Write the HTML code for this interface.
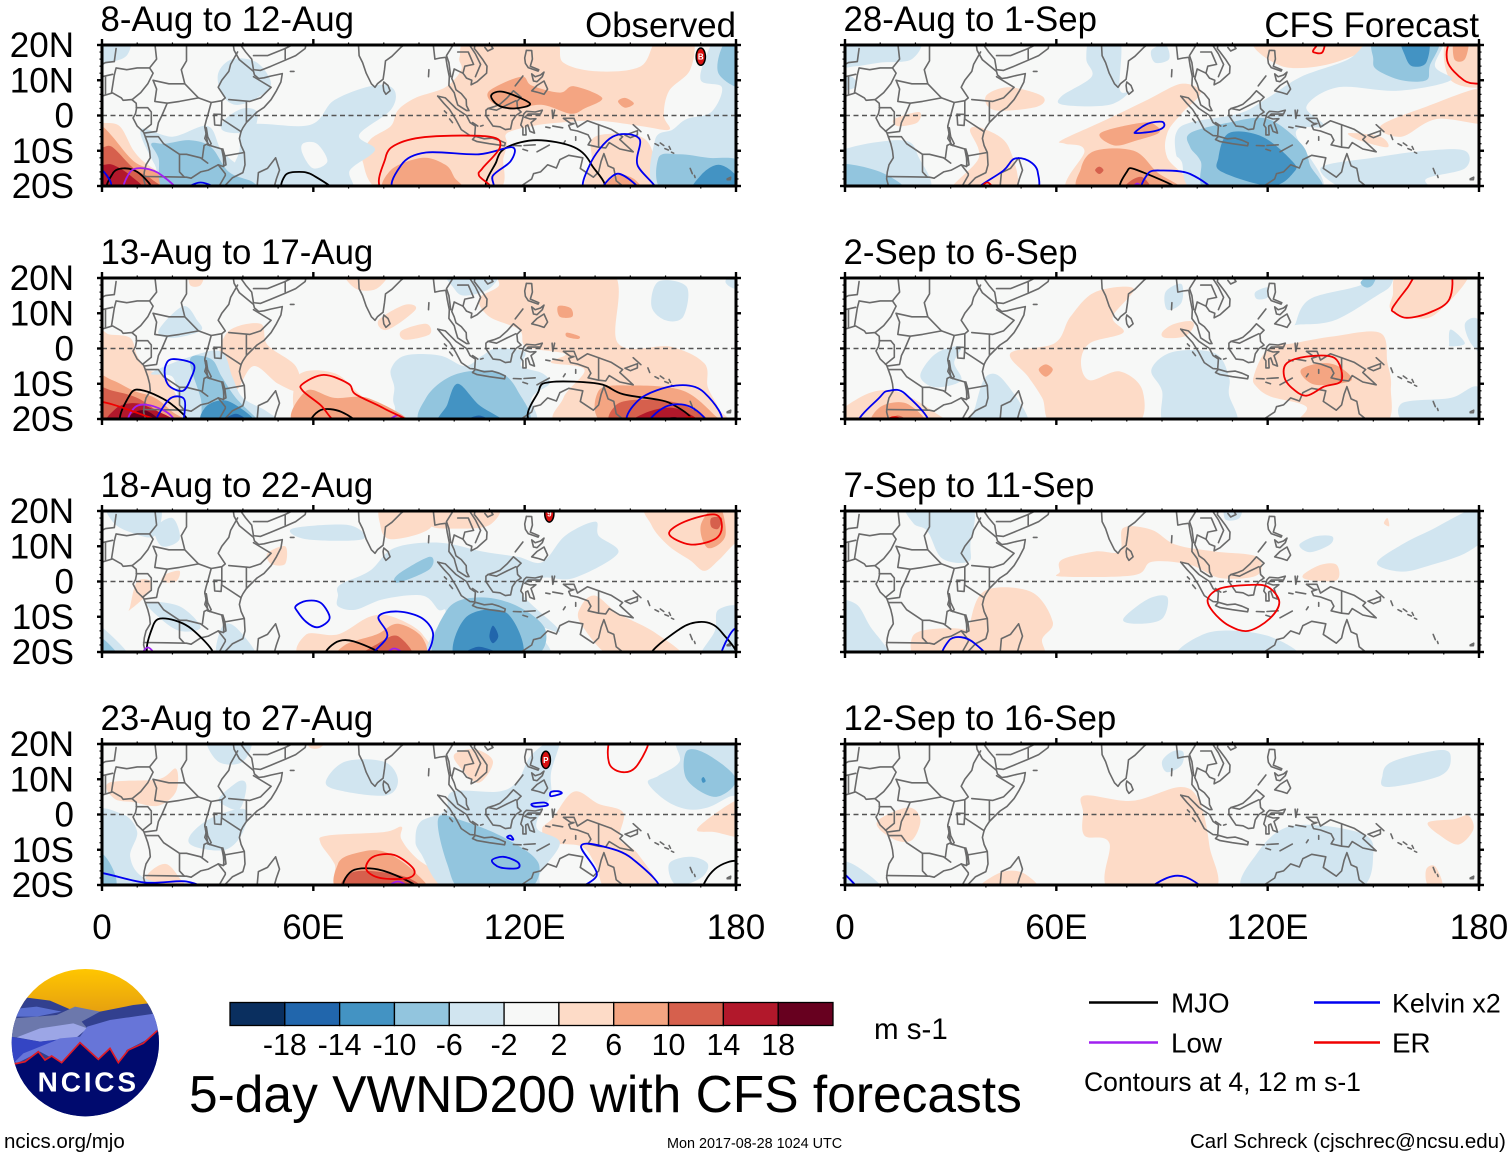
<!DOCTYPE html>
<html lang="en">
<head>
<meta charset="utf-8">
<title>5-day VWND200 with CFS forecasts</title>
<style>
html,body{margin:0;padding:0;background:#fff}
svg{display:block}
text{font-family:"Liberation Sans",Arial,sans-serif;fill:#000}
</style>
</head>
<body>
<svg id="chart" xmlns="http://www.w3.org/2000/svg" width="1510" height="1158" viewBox="0 0 1510 1158">
  <rect width="1510" height="1158" fill="#fff"/>
  <g id="panels"></g>
  <g id="colorbar"></g>

  <text x="874" y="1039" font-size="29.5">m s-1</text>
  <text x="189" y="1112" font-size="51.5">5-day VWND200 with CFS forecasts</text>

  <line x1="1089" x2="1158" y1="1002.5" y2="1002.5" stroke="#000" stroke-width="2.5"/>
  <text x="1171" y="1012.5" font-size="27.8">MJO</text>
  <line x1="1314" x2="1380" y1="1002.5" y2="1002.5" stroke="#0000f0" stroke-width="2.5"/>
  <text x="1392" y="1012.5" font-size="26.8">Kelvin x2</text>
  <line x1="1089" x2="1158" y1="1042.5" y2="1042.5" stroke="#a020f0" stroke-width="2.5"/>
  <text x="1171" y="1052.5" font-size="27.8">Low</text>
  <line x1="1314" x2="1380" y1="1042.5" y2="1042.5" stroke="#f00000" stroke-width="2.5"/>
  <text x="1392" y="1052.5" font-size="27.8">ER</text>
  <text x="1084" y="1091" font-size="26.5">Contours at 4, 12 m s-1</text>

  <text x="4" y="1148" font-size="20.5">ncics.org/mjo</text>
  <text x="667" y="1148" font-size="14.4">Mon 2017-08-28 1024 UTC</text>
  <text x="1190" y="1148" font-size="20.5">Carl Schreck (cjschrec@ncsu.edu)</text>

  <g transform="translate(0,960) scale(0.33333)">
    <defs>
      <clipPath id="logoClip"><circle cx="256" cy="248" r="221"/></clipPath>
      <linearGradient id="sun" x1="0" y1="0" x2="0" y2="1"><stop offset="0" stop-color="#ffc600"/><stop offset="1" stop-color="#e6a010"/></linearGradient>
    </defs>
    <g clip-path="url(#logoClip)">
      <rect x="30" y="27" width="460" height="130" fill="url(#sun)"/>
      <polygon fill="#32408f" points="75,112 150,122 215,150 300,155 400,135 445,130 490,210 490,480 20,480 30,190"/>
      <polygon fill="#5a6fd0" points="60,145 110,140 185,155 110,170 40,170"/>
      <polygon fill="#6c78ac" points="40,175 110,170 170,165 225,140 300,155 245,185 262,205 100,220 50,232 30,230"/>
      <polygon fill="#9ca6e6" points="50,232 120,205 220,190 262,205 230,232 120,245"/>
      <polygon fill="#6775d8" points="470,160 478,220 380,270 360,310 330,265 300,300 240,245 185,310 120,275 50,310 40,300 80,270 180,235 240,230 262,200 330,180"/>
      <polygon fill="#3445c4" points="30,230 120,245 170,240 70,280 40,310 20,300"/>
      <polygon fill="#000a6e" points="42,312 75,305 115,275 135,300 155,288 185,308 240,248 295,298 330,265 355,308 385,270 430,250 472,212 490,210 490,480 20,480"/>
      <polyline fill="none" stroke="#dd1c28" stroke-width="5" points="42,312 75,305 115,275 135,300 155,288 185,308 240,248 295,298 330,265 355,308 385,270 430,250 472,212"/>
    </g>
    <text x="113" y="395" font-size="84" font-weight="bold" style="fill:#fff" textLength="295" lengthAdjust="spacing">NCICS</text>
  </g>
</svg>

<script>
/* ---------- chart data ---------- */
const panelTitles = ['8-Aug to 12-Aug','13-Aug to 17-Aug','18-Aug to 22-Aug','23-Aug to 27-Aug','28-Aug to 1-Sep','2-Sep to 6-Sep','7-Sep to 11-Sep','12-Sep to 16-Sep'];
const columnTitles = ['Observed','CFS Forecast'];
const lonTicks = [0,60,120,180];
const lonTickLabels = ['0','60E','120E','180'];
const latTicks = [20,10,0,-10,-20];
const latTickLabels = ['20N','10N','0','10S','20S'];
const colorLevels = ['-18','-14','-10','-6','-2','2','6','10','14','18'];
const binColors = ['#0a2f5f','#2166ac','#4393c3','#92c5de','#d1e5f0','#f7f8f7','#fddbc7','#f4a582','#d6604d','#b2182b','#67001f'];

/* each fill: [bin (-5..5), lon, lat, lon, lat, ...] */
const fillsP1 = [
[1,81,-22,74,-13,76,-7,82,-3,84,1.5,89,5,97.5,8,102,13,101.5,16.5,105,22,127.5,22,131,15,141,12.5,153,14,158,22,167.5,22,167,13,161,7,159.5,0,161,-4,153,-3,141,-1.5,130,-2,122,-3,115,-5,115,-8,114,-12,111,-22],
[1,139,-13,140,-6,153,-6,157,-13,157,-22,138,-22],
[1,-3,-1,0,-2,5,-3,9,-10,13,-14,20,-18,30,-22,-3,-22],
[2,110,7,119,11,122,8.5,130,6.5,134,8.3,142,5,137,2,133,0.5,125,3,117,2,111,3.5],
[2,146.5,4,148.5,5,151,3.4,148.5,2.2],
[2,81,-22,82,-15.5,91,-12,97.5,-14,100,-17.5,102,-22],
[2,142,-22,146,-17,151,-18,153,-22],
[2,-3,-2,0,-3,3,-6,9,-13,15,-16,22,-22,-3,-22],
[3,-3,-8,0,-9,3,-9,9,-15,14,-18,17,-22,-3,-22],
[4,-3,-13,0,-14,3,-14,8,-17,12,-22,-3,-22],
[-1,11,-4,20,-6,30,-3,34,-10,40,-15,47,-19,48,-22,20,-22,15,-14],
[-1,35,-1,40,2,44,1,43,-4,38,-5,34,-4],
[-1,33,12,37,16,44,15,48,9,44,5,38,3,34,6],
[-1,41.4,-2.7,59,-2.7,66,4.4,77.5,8.6,83,7.2,82,1.6,73,-5.5,77.5,-9.8,70.4,-15.5,69,-22,38,-22,39,-10],
[0,57,-8,61,-8,64,-13,60,-15,57,-11],
[-1,157,-7,162,-4,166,-1,173,1,176,8,170,10,172,18,175,22,183,22,183,-22,158,-22],
[-1,-3,20,2,22,8,22,7,17,2,15,-3,14],
[-2,158,-12,164,-11,172,-12,181,-13,181,-22,160,-22],
[-2,175,12,177,21,183,21,183,8],
[-2,14,-8,18,-8,25,-7,31,-9,36,-16,43,-19,43,-22,19,-22,16,-12],
[-3,168,-22,170,-17,175,-14,180,-17,182,-22]
];
const fillsP2 = [
[1,-3,5,2,4,8,3,10,-2,13,-6,18,-8,22,-15,26,-22,-3,-22],
[1,33,-3,36,5,45,7,47,1,55,-5,56,-12,50,-10,43,-5,38,-12,35,-8],
[1,55.5,-8,66,-7,74.5,-14,88,-22,58,-22],
[1,107,14,112.5,17.6,115,22,144.5,22,146.5,1.5,161.5,0.5,171,-4.2,172,-11,175,-17,175,-22,131.5,-22,131,-14,137,-6,127.5,-4,131.5,-1.5,120.5,0.5,118.5,5.3,110,9],
[1,78.5,8,86,12.4,89,11,81,5.3],
[1,85,5,92,7,93,4,86,2.5],
[1,69,22,81,22,78,17,72,17],
[1,25,22,29,22,28,18,25,18],
[2,58,-12,66,-14,76,-14.2,87,-22,55.5,-22],
[2,-3,-7.7,3,-9,9,-12,15,-14,20,-18,24,-22,-3,-22],
[2,141,-12,151,-10.5,165,-12,174,-19,176,-22,144,-22],
[2,129.5,12,133,11.5,133.5,9,130,9],
[2,132,4.5,135.5,3.5,135,2.7,132,3.3],
[3,-3,-11,3,-12,10,-14,16,-18,22,-22,-3,-22],
[3,146,-16,154,-14.5,165,-16,172,-22,146,-22],
[4,4,-17,9,-15.5,14,-17,22,-22,2,-22],
[4,155,-18,163,-17,170,-22,150,-22],
[5,8,-19,12,-17.5,16,-20,17,-23,7,-23],
[5,157,-21,163,-19.5,168,-23,154,-23],
[-1,16,5,23,12,27,8,28,5,20,3],
[-1,98,22,112,22,110,17,103,15,100,17],
[-1,14,-7,26,-2,34,-1,37,-8,40,-14,47,-18,50,-22,26,-22,22,-15,20,-8],
[-1,82,-6,86,-2,96,-2,103,-5,108,-2,112,0,120,-1,119,-5,125,-7,127,-10,122,-14,121,-22,88,-22,83,-16,83,-11],
[-1,158,19,166,17.5,165,9,160,8,156,12],
[-1,180,17,177,19,180,22,183,20],
[-2,92,-22,92,-14,100,-7.5,112,-6.5,118,-12,120,-22],
[-2,25,-3,31,-3,34,-8,38,-14,44,-20,45,-22,30,-22,28,-14],
[-3,96,-22,98,-16,101,-10,107,-16,115,-22],
[-3,29.5,-16.5,36,-15,44,-22,29,-22],
[-4,101,-22,107,-19,111,-22],
[-4,33,-22,38,-18.5,42,-22]
];
const fillsP3 = [
[1,80,22,94,22,93,15,82,12,79,16],
[1,93,22,112,22,110,16,100,15,93,16],
[1,156,22,156,16,161,10,167,6,171,3,175,6,180,11,183,11,183,22],
[1,136,-7,140,-4,146.5,-9,157,-14.5,165,-22,146,-22,136,-12],
[1,58,-15,67,-15,76,-10,82.5,-10,91,-15,91,-22,58,-22],
[1,8,-7,10,0,14,0,13,-3.5,8,-8],
[1,18,2,22,3,21,0,17,0],
[1,47,8,52,10,52,5,48,5],
[2,69,-18,78,-15,84,-12,91,-16,90,-22,68,-22],
[2,170,16,175,22,177,13,172,9.5],
[3,73,-22,78.5,-17.5,84,-15.5,88,-22],
[3,173,18,176,18,175,15,173,15.5],
[-1,54,15,70,16,74,12,58,12],
[-1,67,-4,67.5,-1,76,3,83,9.5,96,11,108,8.5,118,7,125,5.5,131.5,13,140,17,141,13,146.5,8,134,1,125,1,119,-3,130,-14,123,-13,126,-22,93.5,-22,97.5,-9,95.5,-8,91,-4,80,-5,72,-8,67,-7],
[-1,-3,-13,0,-13,8,-22,-3,-22],
[-1,34,-13,38,-13,44,-22,33,-22],
[-1,13,-6,22,-7,28,-13,22,-14,16,-10],
[-1,2,22,16,22,15,13,8,14,3,17],
[-1,15,15,20,18,22,12,17,10],
[-1,175,-8,182,-8,182,-22,170,-22,174,-14],
[-2,84,2,93,7,93,3.5,84,-0.3],
[-2,98,-8,107,-4.5,118,-7,126,-14,121,-22,95,-22],
[-2,-3,-16,0,-16,5,-22,-3,-22],
[-3,100.5,-22,103.5,-10,115,-9,119,-22],
[-4,110,-15.5,111,-12.5,112.5,-15.5,111,-17.5],
[-4,102,-22,107,-18.5,115,-22]
];
const fillsP4 = [
[1,2,9,16,10,21,13,21,6.5,16,2.5,9,3.5,3.5,4.5],
[1,100,17,106,18.5,111,15,107,9,102,13],
[1,128,-1,134,6.5,141,3,148,0.5,147,-7,152,-11,158,-22,144,-22,140,-14,136,-9,127,-8,125,-4],
[1,62,-8,64,-6,80,-5,85,-3.5,85,-7,90,-13,102,-22,69,-22,66,-14],
[1,13,-17,18,-14,22,-18,24,-22,12,-22],
[1,169,-4,179,3.5,183,3.5,183,-6,174,-5],
[1,58,22,64,22,62,19,59,19],
[2,67,-14,72,-11,80,-10.5,89,-16.5,91,-22,68,-22],
[3,69,-22,70,-17,76,-16,87,-18,90,-22],
[-1,-3,0,6,0,10,-5,8,-12,12,-18,25,-22,-3,-22],
[-1,25,-6,31,-1,40.5,1.5,40,-5,35,-10,26,-9],
[-1,33.5,5,39,9.5,41,8,39,1.5,34,3],
[-1,30,22,42,22,40,15,33,15],
[-1,63.5,9,69,15,80,15,84,10,81,5.5,69,6.5],
[-1,90.5,-2,97.5,1,99.5,6.5,112.5,6.5,118,9.5,122,17,130,22,127.5,12,127.5,5.5,125,1.5,123.5,-4,130,-8,124.5,-16.5,122,-22,99,-22,90.5,-11,89,-7],
[-1,164,22,164,15,158,11,155,9,160,4,166,1.5,172,2,178,5,183,7,183,22],
[-1,161,-14,167,-12,172,-14,170,-18,163,-20],
[-2,95.5,-1,103,-2,115,-7,124,-14,120,-22,103,-22,98,-14],
[-2,166,18,172,17,180,10,174,5,166,10],
[-2,-3,-10,1,-12,4,-18,3,-22,-3,-22],
[-3,170.2,10,170.8,10.6,171.4,9.5,170.6,9]
];
const fillsP5 = [
[1,61.5,-7,73.5,-1.5,86,4.5,95.5,9,101,6.5,95.5,0.5,91.5,-5,91.5,-12,98,-22,64,-22,68,-10,62.5,-8],
[1,40,5.5,46.5,8,56,5.5,54.5,2.5,42.5,1.5],
[1,14,-1,21,1,20.5,-2,15,-3],
[1,35.5,-4,40,-4,46.5,-9,48,-22,30,-22,38,-12],
[1,117,22,151,22,139,15,124,14],
[1,171,22,183,22,183,9,172,10],
[1,152,-3,165,2.5,183,8,183,-2,168,-1,158,-6],
[1,143,-5,152,-6,154,-9,146,-7],
[2,72.5,-5,84.5,-2,88.5,-3,89,-5,83,-7,76.5,-8.5],
[2,67,-15,71,-10,82,-10,88.5,-16,95.5,-22,68,-22],
[2,173,22,177,22,176,16,173,16],
[3,71,-15.5,72.2,-14.5,73.4,-15.5,72.2,-16.6],
[3,80.5,-19,84.5,-17.5,87,-22,79,-22],
[-1,-3,22,20,22,19,16,10,15,3,14,-3,14],
[-1,-3,11,2,11,3,8,-3,7],
[-1,-3,-11,16,-7,21,-12,23,-22,-3,-22],
[-1,61.5,5.5,70,11,68.5,16,70,22,78,22,78,7.5,81,7,75,3,62,3],
[-1,87,18.5,91,20,92,16,88,15],
[-1,94,-11,94,-5,98,-2,112,0.6,120,5,129.5,11,143,16,151,22,169,22,167.5,14,172,10,157,7,140,8,131,2.5,136,-3,128,-5,135,-22,101,-22,95.5,-13],
[-1,135,-15,150,-12,165,-10,176,-10,176,-15,165,-18,166,-22,145,-22],
[-2,98,-9,98,-5,109,-2,120,-1,129.5,-8,132,-14,134,-22,104,-22,101,-13],
[-2,150,16,151,22,168,22,166,14,165,10,158,10,151,13],
[-2,-3,-14,10,-16,17,-22,-3,-22],
[-3,106,-12,109,-5,118.5,-6,127,-13,127.5,-16,121,-20,107,-16],
[-3,158,22,165.5,22,165,15,161,14,159,17]
];
const fillsP6 = [
[1,-3,-22,4,-14,14,-12,26,-18.5,28,-22],
[1,47,-1.3,59.5,1.5,64,9,71,16,82,17,76,9,79,4.5,69.5,1.5,67,-4,69.5,-9,78,-6.5,84.5,-12,82,-22,60,-22,56,-14,52,-8],
[1,90,4.5,93,6.8,98,7.8,99,6.3,96.5,3.5,91,3],
[1,116,-8,120,-0.3,128,1.6,139,3.5,152,4.4,154,-4,155,-11,152.5,-22,129.5,-22,131,-16.5,121,-13.7,117,-11],
[1,158,22,177,22,168,10,161,8.7,155,11,155.5,15],
[2,55,-6,57,-4.5,59,-6,57,-8],
[2,129.5,-6,135,-4.2,140,-5,143.8,-9,135,-10.4,131,-9],
[2,8,-22,10,-16.6,17.5,-15.6,23,-22],
[3,11,-22,15,-19,19,-22],
[-1,21.5,-7,26,-1.3,33,0.6,31,-4,33,-9,27,-11,23,-10],
[-1,40,-8,45,-9,52,-22,36,-22,37,-16.5],
[-1,87,-6,93,-1,105,-1.3,109,-8,109,-13,110.5,-22,91.5,-22,90,-12],
[-1,91,16,95.5,18.3,95.5,13,91.5,11],
[-1,116.5,16,120,17.3,120,14.5,117,14],
[-1,128,7.3,132,14,146,17.8,155,22,155,18,151,15,139,8,129,6.8],
[-1,171.5,1.6,172,5.4,176,1.5,172,0.6],
[-1,176,7,180,8,183,-2.5,178,1],
[-1,158,-15.6,172,-14,180,-11,184,-22,161,-22],
[-2,146.5,19,151,22,150,18.3,148,17.3]
];
const fillsP7 = [
[1,61,2.8,61.6,6.2,71,8.5,78,8.5,79,15.2,87,14.7,94,10.4,105,8.5,117,7,117,1.8,106.5,1,98,4.7,87.2,5.6,82,1.8,61.6,1.4],
[1,130,1.8,135,4.7,139.6,4.7,139.6,0.4,132,0.4],
[1,40,-2.5,53,-3,59,-11.5,56,-16.3,55.4,-22,35.6,-22,35.6,-11.5],
[1,19.3,-15.4,26,-13.4,35.6,-14.4,35.6,-22,20.7,-22],
[1,153,16.5,154,18,154.5,15.7],
[-1,18,22,35.6,22,35.6,10.4,35,5.6,27.5,6.6,23.4,14.3,19.4,16.5],
[-1,-3,-6.7,3,-6.3,7,-12.5,12.5,-22,-3,-22],
[-1,79,-10.6,86,-5,91.5,-4.4,90,-10.6,83,-12],
[-1,95,-22,103.5,-14.4,120,-15.4,128,-22],
[-1,151,5.2,158,10.4,166.5,14.7,180,21,184,15,177,8.5,166.5,4.7,158,2.8],
[-1,129,10.4,133.5,12.8,138.3,12.8,137.6,10.4,132,8.3],
[-1,108,22,112.5,22,112,18,108,17.6]
];
const fillsP8 = [
[1,68,5.4,81.6,3.9,95.3,7.8,100.7,3.5,103.5,-9,104,-22,75.7,-22,75,-8,68,-6,67.6,0.6],
[1,9.8,-1.3,18,2,21.4,-1.3,19.3,-7,15,-7.5,9.8,-4.2],
[1,37.7,-22,43.8,-16.6,50.6,-16.6,54.7,-22],
[1,165.5,-2.3,173,-1.3,177,-0.3,178.4,-4.2,174.3,-8.5,169,-6],
[1,165,-15.6,167.5,-14.7,169.6,-20,165.5,-20],
[-1,152.6,11,155.4,15,169,18.3,172,16,169,11,154,7.8],
[-1,90,15,92.8,17.8,96,17.8,95.5,14,91.4,12],
[-1,-3,-13.7,3,-14.5,11,-22,-3,-22],
[-1,114,-22,117,-11,127,-3.2,146,-5.1,150,-11,144.4,-22]
];
const panelFills = [fillsP1,fillsP2,fillsP3,fillsP4,fillsP5,fillsP6,fillsP7,fillsP8];

/* each contour: [wave type, lon, lat, lon, lat, ...] */
const contoursP1 = [
['mjo',2,-22,3,-16.5,6,-15,10,-16,14,-20,15,-23],
['mjo',52,-22,52,-17,56,-16,60,-17,66,-22],
['mjo',110.5,5.7,114,6.7,121.5,3.4,117,2,112.5,2.9],
['mjo',111,-22,112,-13,115,-9,123.5,-7,134,-9,139,-14,141,-22],
['low',7,-22,8,-16,12,-15,17,-17,21,-22],
['kelvin',-2,-15.5,0,-15.5,2.5,-19,2,-22,-2,-22],
['kelvin',23,-22,28,-19,34,-22],
['kelvin',84,-22,85,-14,92,-10.5,107,-11,116.5,-9,116,-13,111,-17,109,-22],
['kelvin',138,-22,138.5,-14,145,-6,152.5,-6.5,152,-14,157,-22],
['kelvin',142,-22,146.5,-16.5,153,-22],
['er',81,-22,80.5,-12,84,-8,93,-6,110,-6,113,-9,108,-15,107,-17,109.5,-22]
];
const contoursP2 = [
['mjo',6,-22,8,-13,12,-12,20,-16,24,-22],
['mjo',59.5,-22,62,-17.5,68,-18,72.5,-22],
['mjo',124,-22,124,-12,127.5,-9.5,141,-10,148,-13,161.5,-15.6,165,-22],
['low',8,-22,9,-17,13,-16,19,-18.5,20,-22],
['low',80,-22,84,-19,87,-22],
['kelvin',18,-5,20,-3,26,-4.5,25,-9,23,-12,19.5,-11,18,-8.5],
['kelvin',15,-22,19,-14.5,23,-14,23.5,-17.5,22,-22],
['kelvin',150.5,-22,152.5,-14.5,163,-10.5,171,-12.5,175,-22],
['kelvin',155.5,-22,160,-16.5,167,-16.5,171.5,-22],
['er',-3,-15,12,-19,18,-22.5,-3,-24],
['er',57,-10,63,-7.5,70,-10,72,-13,80,-17,88,-22,69,-22,62,-16,57,-12],
['er',161.5,-22,167,-19.5,170,-22]
];
const contoursP3 = [
['mjo',14,-22,14.5,-12.5,18,-10.5,25.5,-13.5,31.5,-22],
['mjo',64,-22,66,-17.5,71.5,-17,81,-22],
['mjo',156,-22,164,-13.5,171,-11.5,176,-14.5,179,-22],
['low',11,-22,13,-18.7,15.5,-22],
['low',80,-22,83,-19,87,-22],
['kelvin',55,-7,58,-5.5,62,-6,64.5,-9.5,64,-11.5,61,-13,58,-11.5,55.5,-8.5],
['kelvin',76.5,-22,81,-15.5,78.5,-10,84,-8.5,91,-10.5,94,-15.5,90,-22],
['kelvin',176,-22,178,-15.5,181,-13.5,184,-22],
['er',161,13.5,165.5,17,174,19,176,15.5,174,12,167,10.5]
];
const contoursP4 = [
['mjo',70,-22,71,-16,80,-16,90.5,-22],
['mjo',171,-22,174,-15.5,181,-13.5,183,-22],
['low',80,-22,84,-19,88,-22],
['kelvin',-3,-16.5,12,-19.3,24,-19,27,-22,-3,-24],
['kelvin',127.5,6.4,129.5,6.6,130.5,6,127.5,5.2],
['kelvin',122,3,125.5,3.4,126.5,2.6,123,2.2],
['kelvin',115,-6.4,116,-6,116.8,-7.1,116,-7],
['kelvin',110.7,-13,114,-12,118,-13.5,118,-15.2,113,-15],
['kelvin',136,-22,140.5,-17,136,-9,142,-9,150.5,-12.5,158,-22],
['er',145,22,144,14.5,148,12,152,14,155,22],
['er',75,-15.5,77,-12,83,-11.5,88.5,-15.5,87,-18,79,-18]
];
const contoursP5 = [
['mjo',79,-22,80,-16,83,-15.5,96,-22],
['low',81,-22,83,-19.3,85,-22],
['kelvin',82.5,-4.6,86,-2.3,90,-1.8,90.5,-3.2,88,-4.4,83,-5],
['kelvin',85.5,-22,86,-16.5,90,-15.6,98,-16.6,104,-22],
['kelvin',37,-22,45,-15.6,48,-12.3,52,-12.8,54.7,-16,53.3,-22],
['er',37.7,-22,40.4,-19,42.5,-22],
['er',133,18.6,136.3,22,135.6,18,133.6,17.8],
['er',173,22,171,15.5,175.7,10,180,9,184,9,184,22]
];
const contoursP6 = [
['kelvin',4,-22,10,-13.7,12.5,-12,17,-12.8,23.5,-22],
['er',155.5,11.6,159.5,17,163.5,22,171.6,22,171.6,14,166,10.2,159.5,8.7,156,10.2],
['er',124.7,-8,125.4,-4.2,131,-2.3,139,-2.7,141,-9,136,-10.8,131,-13.4,127,-11.3],
['er',8,-23,14,-19.5,18,-23]
];
const contoursP7 = [
['kelvin',28,-22,29.5,-16.8,33,-15.8,37,-17.7,40,-22],
['er',103,-5,106.5,-2,114.5,-1,120,-1.5,123.3,-5.8,120.5,-10.6,114.5,-14,109,-12.5,104.5,-8.6]
];
const contoursP8 = [
['kelvin',86.6,-22,91.4,-18,96.8,-17.8,101.6,-22],
['kelvin',-3,-15,0,-17,3.7,-22,-3,-24]
];
const panelContours = [contoursP1,contoursP2,contoursP3,contoursP4,contoursP5,contoursP6,contoursP7,contoursP8];

const stormLons = [170,null,127,126,null,null,null,null];
const stormLats = [16.7,null,19.3,15.5,null,null,null,null];
const stormLetters = ['B','','9','P','','','',''];

/* coastlines and borders: lon, lat pairs */
const coastLines = [
[0,5.5,3,6.4,5.5,5,6,4.3,8.5,4.5,9.7,3.5,9.8,2,9.5,0.5,8.8,-0.7,10,-3,11.8,-4.7,12.3,-6,13,-8,13.5,-10,13.7,-12,12.5,-14,12,-16,11.8,-18,12.5,-20.5],
[37.2,20.5,37.5,18.5,39,15.8,43,12.5,43.3,11.5,44.5,10.5,46,10.7,48,11.2,51.2,11.9,50.8,9.5,49.5,7,48,4.5,46,2.3,44,1,42,-1,41,-2,40,-3.5,39.5,-4.5,39,-6.5,39.5,-8.5,40.4,-10.5,40.6,-14,40,-16.2,37,-17.7,35,-19.8,34.8,-20.5],
[39,20.5,40.8,18,42.5,16,43,13,45,12.8,48,14,52,15.7,55,17,57.7,19,58,20.5],
[72.8,20.5,73,17,74,15,75,12,76.5,9,77.5,8,78.2,9,79.8,10.3,80.2,13,80.5,15.5,82.3,16.8,85,19.5,86.5,20.5],
[80,9.5,81.2,8.5,81.8,7,80.6,6,80,7,79.8,8.5,80,9.5],
[94,20.5,94.3,18,94.5,16,96,16.3,97.6,16.5,98,14,98.6,11,98.5,8.5,100,6.5,100.4,5,101,3,103.5,1.4,104.2,1.4,103.5,2.8,103.4,4.5,102,6.2,100.5,7.3,100,9,99.3,10.5,100,13.2,101,12.7,102.5,12,103.5,10.6,105,10,104.8,8.7,106.5,9.6,107.5,10.5,109.2,12,109.3,14,108,16,106.5,18,105.7,19,106,20.5],
[95.3,5.5,97.5,5,100.5,2,103.5,0,104.5,-2,106,-3,105.8,-5.8,104.5,-5.7,102,-4,100.4,-1,98.7,1.7,97,3.5,95.3,5.5],
[105.2,-6.8,106,-5.9,108.5,-6.6,110.8,-6.4,112.7,-7,114.5,-7.8,114.3,-8.6,110,-8,106.5,-7.4,105.2,-6.8],
[109,1.5,109.6,2,111.3,2.5,113,3.2,115,5,116.8,7,119,5.2,117.8,4,118,2,119,1,117.5,0,116.5,-1.5,116,-3.8,114.5,-4,113,-3.2,111,-3,110,-1.5,109,0,109,1.5],
[119.8,0.5,120.5,1.2,123,1,125,1.5,124.5,0.4,121,0.4,120,-0.5,121.5,-1,123.2,-0.9,121.8,-2,122.5,-4,122.8,-5,121.5,-4.5,120.9,-2.7,120.3,-3,120.4,-5.5,119.5,-5.5,119.5,-3.5,118.9,-2.7,119.8,0.5],
[120.5,18.5,122,18.4,122.2,16,121.6,14,124,13,123.8,12.6,121,13.6,120.2,14.8,120,16.3,120.5,18.5],
[122,7,123.5,8.5,125.5,9.8,126.5,7.5,125.5,6,124,6.5,122,7],
[122,11.8,123,11,124.5,11.5,125.5,12.3,125,11,123.5,9.6,122.5,9.8,122,11.8],
[117.3,8.4,119.5,11.2],
[131,-0.8,134,-0.8,135,-3.3,137.8,-1.5,141,-2.6,144.5,-3.9,147.8,-6,147,-6.8,150.8,-10.3,147,-9.5,144,-7.7,143,-9.2,141,-9,138,-8.3,138.8,-7,138,-5.5,135,-4.4,133,-4,132.5,-2.8,134,-2.3,133,-2.2,131,-0.8],
[148.5,-5.6,152,-4.3,152,-5.5,150,-6.3,148.5,-5.6],
[150.8,-2.6,153,-4.6],[155,-5.5,155.5,-6.8],[157,-8,158,-8.5],[158.5,-7.8,159.5,-8.5],[159.8,-9.4,160.8,-9.8],[161,-8.8,161.4,-9.6],[161.7,-10.4,162.3,-10.7],
[167,-15,167.6,-16.5],[168.2,-17,168.4,-17.6],[164,-20.1,165,-20.8],
[177.5,-18,178.5,-17.5,178.4,-18.2,177.5,-18.2,177.5,-18],
[114,-20.5,116.5,-20.5,119,-20,122,-18,122.5,-16.5,124.5,-16,126.5,-14,129,-14.9,130,-12.5,132.5,-11.3,136.5,-12,135.8,-15,139.5,-17.5,141,-16,141.7,-13,142.5,-10.8,143.7,-14.3,145.3,-15,146,-18.5,148.5,-20.5],
[49.3,-12,50.4,-15.5,49.5,-18,48.8,-20.5,44,-20.5,44.4,-16.2,47,-15,49.3,-12],
[116.8,-8.5,119,-8.6],[119.8,-8.5,123,-8.3],[119.5,-9.6,120.8,-10],[123.5,-10.3,127,-8.4],[127.8,1.5,128,-0.8,128.5,1.5],[128,-3,130.8,-3.5],[126,-3.3,127.2,-3.5],[105.2,-2,106.7,-3],[107.5,-3,108.2,-2.8],[97.2,1.3,97.8,0.7],[98.7,-1,99.5,-2],[53.5,12.5,54.5,12.5],[92.8,13,92.7,11],[110,20.5,111,19,109.5,18.3,108.7,19.3],[131.5,-7.2,131,-8],[134.5,-6,134.5,-7]
];
const borderLines = [
[24,20.5,24,15.5,22.5,13,23.5,9],[15,20.5,15.5,16,13.5,13.5],[3.5,11.5,4,13.5,7,13,10,13.5,13.5,13.5,14.5,12,13,9,11,6.5,8.7,4.6],[2.7,6.4,3.5,11.5],
[14.5,10,15.5,7.5,15,4,18.5,3.5,22,4,27.4,5],[14.5,10,19,9,23.5,9,27.4,5,31,3.7,34,4.2,35,5,33,8,34,10,36,12.5,36.5,14.5,38.5,18],
[43,11,48,8,45,5,42,4,36,4.5],[34,4.2,34,1,34,-1,39.5,-4.6],[41,-1.7,41,3.9],[31,3.7,30,0,29.6,-1.3,29.2,-3],
[12.3,-6,16,-6,17.5,-8,22,-11,24,-11,28,-12,30,-13.5],[29.2,-3,30,-8,29,-8.5,28.5,-12],[18.5,3.5,17,0,16,-2,15.5,-4.5,12,-5],[9.7,2.2,13,2.2,14,1,14,-2.5,11.5,-4.5],
[11.8,-17.3,18.5,-17.4,24,-17.5,25.3,-17.8],[22,-11,22,-13,22,-16,23.4,-17.5],[30,-8.3,34,-9.5,34.7,-12,34.5,-14.5,33,-14,30.2,-15.5,28,-16,25.3,-17.8],[33,-14,35,-16.5,35,-17,33,-20.5],[34.7,-11.5,40.4,-10.5],
[29.2,-3.3,29.6,-5,29.2,-6.5,30.5,-8.5,31,-8,30,-6,29.6,-3.5],[34,-9.5,34.5,-12,34.6,-14.3,35.2,-14,34.9,-11.5,34.3,-9.5],[31.8,0.4,34,0.3,33.8,-2.8,32,-2.7,31.8,0.4],
[0,14.5,1,15,3.5,15.3,4,19],[0,11,3,11.7],[1,6,1,11],[43,17,47,17,52,19,52,16],[55,20.5,52,19],
[100,20.5,97.8,17,98.5,15,99,11],[101,18,104,18,105.5,14.5,103,14,102.5,12],[104,20.5,106,17.5,107.5,14.5,106,11],[109.6,2,112,1.5,115,3,117.5,4.2],[141,-2.6,141,-9]
];

/* ---------- axis functions ---------- */
const plotWidth = 634, plotHeight = 141;
const columnLeft = [102, 845];
const rowTop = [45, 278, 511, 744];
const xAxis = (lon, left) => left + lon / 180 * plotWidth;
const yAxis = (lat, top) => top + (20 - lat) / 40 * plotHeight;

const SVG_NS = 'http://www.w3.org/2000/svg';
function make(tag, attrs, parent) {
  const el = document.createElementNS(SVG_NS, tag);
  for (const k in attrs) el.setAttribute(k, attrs[k]);
  parent.appendChild(el);
  return el;
}
function toPoints(flat, start, left, top) {
  const pts = [];
  for (let i = start; i < flat.length; i += 2) pts.push([xAxis(flat[i], left), yAxis(flat[i + 1], top)]);
  return pts;
}
function smoothClosed(p) {
  const n = p.length;
  let d = 'M' + p[0][0].toFixed(1) + ' ' + p[0][1].toFixed(1);
  for (let i = 0; i < n; i++) {
    const a = p[(i - 1 + n) % n], b = p[i], c = p[(i + 1) % n], e = p[(i + 2) % n];
    d += 'C' + (b[0] + (c[0] - a[0]) / 6).toFixed(1) + ' ' + (b[1] + (c[1] - a[1]) / 6).toFixed(1) + ' ' +
         (c[0] - (e[0] - b[0]) / 6).toFixed(1) + ' ' + (c[1] - (e[1] - b[1]) / 6).toFixed(1) + ' ' +
         c[0].toFixed(1) + ' ' + c[1].toFixed(1);
  }
  return d + 'Z';
}
function straight(p) {
  return 'M' + p.map(q => q[0].toFixed(1) + ' ' + q[1].toFixed(1)).join('L');
}
const paintKey = f => f[0] === 0 ? 1.5 : Math.abs(f[0]);
const waveColors = {mjo:'#000000', kelvin:'#0000f0', low:'#a020f0', er:'#f00000'};

/* ---------- panels ---------- */
const panelsRoot = document.getElementById('panels');
panelTitles.forEach((title, idx) => {
  const left = columnLeft[idx < 4 ? 0 : 1];
  const top = rowTop[idx % 4];
  const g = make('g', {}, panelsRoot);
  
  

  const defs = make('defs', {}, g);
  const clip = make('clipPath', {id: 'clip' + idx}, defs);
  make('rect', {x: left, y: top, width: plotWidth, height: plotHeight}, clip);

  const titleEl = make('text', {x: left - 1.5, y: top - 14, 'font-size': 34.8}, g);
  
  
  titleEl.textContent = title;

  if (idx === 0 || idx === 4) {
    const col = make('text', {x: left + plotWidth, y: top - 8, 'font-size': 34.8, 'text-anchor': 'end'}, g);
    
    
    col.textContent = columnTitles[idx === 0 ? 0 : 1];
  }

  const body = make('g', {'clip-path': 'url(#clip' + idx + ')'}, g);
  const bg = make('rect', {x: left, y: top, width: plotWidth, height: plotHeight, fill: binColors[5]}, body);
  
  

  const fills = panelFills[idx].slice().map((f, i) => [f, i]).sort((a, b) => paintKey(a[0]) - paintKey(b[0]) || a[1] - b[1]);
  fills.forEach(item => {
    const f = item[0];
    const path = make('path', {d: smoothClosed(toPoints(f, 1, left, top)), fill: binColors[f[0] + 5]}, body);
    
    
  });

  const landGroup = make('g', {fill: 'none', stroke: '#6a6a6a', 'stroke-width': 1.6, 'stroke-linejoin': 'round', 'stroke-linecap': 'round'}, body);
  
  
  coastLines.concat(borderLines).forEach(line => {
    make('path', {d: straight(toPoints(line, 0, left, top))}, landGroup);
  });

  const eq = make('line', {x1: xAxis(0, left), x2: xAxis(180, left), y1: yAxis(0, top), y2: yAxis(0, top), stroke: '#555', 'stroke-width': 1.5, 'stroke-dasharray': '5 3.5'}, body);
  
  

  panelContours[idx].forEach(c => {
    const path = make('path', {d: smoothClosed(toPoints(c, 1, left, top)), fill: 'none', stroke: waveColors[c[0]], 'stroke-width': 1.8}, body);
    
    
  });

  if (stormLons[idx] !== null) {
    const sx = xAxis(stormLons[idx], left), sy = yAxis(stormLats[idx], top);
    const storm = make('g', {}, body);
    
    
    make('ellipse', {cx: sx, cy: sy, rx: 4.6, ry: 8.6, fill: '#d81010', stroke: '#000', 'stroke-width': 1.5}, storm);
    const lbl = make('text', {x: sx, y: sy + 3, 'font-size': 8, 'font-weight': 'bold', 'text-anchor': 'middle', style: 'fill:#fff'}, storm);
    lbl.textContent = stormLetters[idx];
  }

  /* frame and ticks */
  const axes = make('g', {stroke: '#000', fill: 'none'}, g);
  
  
  make('rect', {x: left, y: top, width: plotWidth, height: plotHeight, 'stroke-width': 3}, axes);
  for (let lon = 0; lon <= 180; lon += 10) {
    const major = lonTicks.includes(lon);
    const len = major ? 6 : 2.5, x = xAxis(lon, left);
    make('line', {x1: x, x2: x, y1: top - len, y2: top, 'stroke-width': major ? 2.4 : 1.2}, axes);
    make('line', {x1: x, x2: x, y1: top + plotHeight, y2: top + plotHeight + len, 'stroke-width': major ? 2.4 : 1.2}, axes);
  }
  for (let lat = -20; lat <= 20; lat += 2) {
    const major = latTicks.includes(lat);
    const len = major ? 5 : 2.5, y = yAxis(lat, top);
    make('line', {x1: left - len, x2: left, y1: y, y2: y, 'stroke-width': major ? 2.4 : 1.2}, axes);
    make('line', {x1: left + plotWidth, x2: left + plotWidth + len, y1: y, y2: y, 'stroke-width': major ? 2.4 : 1.2}, axes);
  }

  if (idx < 4) {
    latTicks.forEach((lat, i) => {
      const t = make('text', {x: 74, y: yAxis(lat, top) + 12, 'font-size': 35, 'text-anchor': 'end'}, g);
      
      
      t.textContent = latTickLabels[i];
    });
  }
  if (idx % 4 === 3) {
    lonTicks.forEach((lon, i) => {
      const t = make('text', {x: xAxis(lon, left), y: 939, 'font-size': 35, 'text-anchor': 'middle'}, g);
      
      
      t.textContent = lonTickLabels[i];
    });
  }
});

/* ---------- color bar ---------- */
const barRoot = document.getElementById('colorbar');
const barLeft = 230, barTop = 1002.5, barHeight = 23, binWidth = 603 / binColors.length;
binColors.forEach((color, i) => {
  const r = make('rect', {x: barLeft + i * binWidth, y: barTop, width: binWidth, height: barHeight, fill: color, stroke: '#000', 'stroke-width': 1.3}, barRoot);
  
  
});
colorLevels.forEach((label, i) => {
  const t = make('text', {x: barLeft + (i + 1) * binWidth, y: 1055, 'font-size': 30.4, 'text-anchor': 'middle'}, barRoot);
  
  
  t.textContent = label;
});
</script>
</body>
</html>
